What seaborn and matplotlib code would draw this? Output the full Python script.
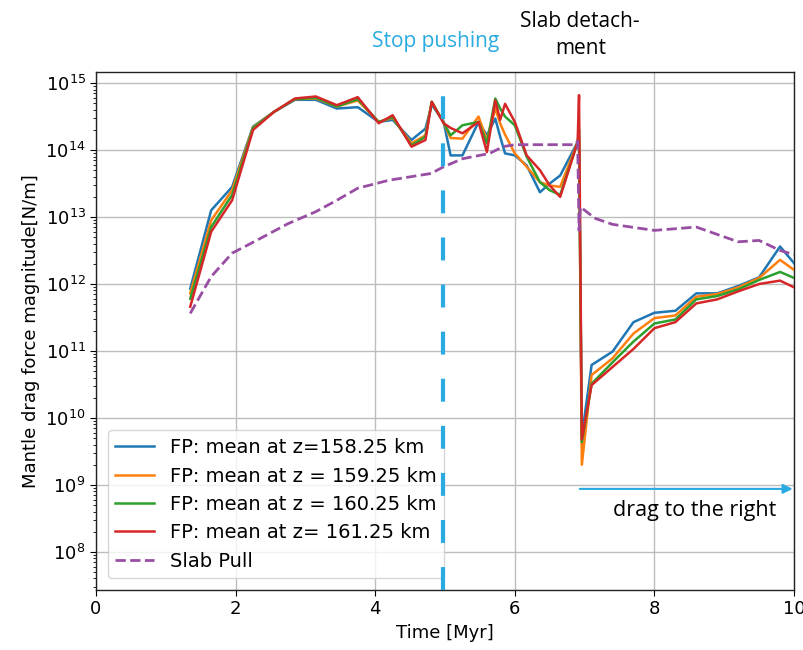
import numpy as np
import pandas as pd
import matplotlib
matplotlib.use("Agg")
import matplotlib.pyplot as plt
import seaborn as sns

# Output times [Myr] of the force-profile (FP) samples
time_fp = [1.35, 1.65, 1.95, 2.25, 2.55, 2.85, 3.15, 3.45, 3.75, 4.05,
           4.25, 4.52, 4.72, 4.81, 4.98, 5.08, 5.25, 5.48, 5.60, 5.72,
           5.79, 5.86, 6.00, 6.17, 6.36, 6.50, 6.65, 6.90, 6.92, 6.96,
           7.10, 7.40, 7.70, 8.00, 8.30, 8.60, 8.90, 9.20, 9.50, 9.80, 10.0]

# log10 of the mean drag force magnitude [N/m] at each depth
log_fp_158 = [11.93, 13.10, 13.45, 14.35, 14.57, 14.75, 14.75, 14.62, 14.64, 14.42,
              14.45, 14.15, 14.32, 14.68, 14.42, 13.92, 13.92, 14.42, 14.22, 14.47,
              14.20, 13.95, 13.92, 13.77, 13.37, 13.50, 13.62, 14.12, 14.15, 9.72,
              10.79, 10.99, 11.43, 11.57, 11.60, 11.86, 11.86, 11.97, 12.10, 12.56, 12.31]
log_fp_159 = [11.86, 12.95, 13.40, 14.34, 14.57, 14.76, 14.77, 14.65, 14.74, 14.42,
              14.48, 14.10, 14.22, 14.72, 14.41, 14.18, 14.17, 14.50, 14.15, 14.62,
              14.40, 14.23, 13.95, 13.75, 13.52, 13.47, 13.45, 14.12, 14.20, 9.30,
              10.64, 10.89, 11.26, 11.49, 11.53, 11.81, 11.85, 11.95, 12.09, 12.36, 12.21]
log_fp_160 = [11.78, 12.85, 13.33, 14.33, 14.57, 14.76, 14.78, 14.65, 14.76, 14.42,
              14.49, 14.07, 14.20, 14.72, 14.41, 14.22, 14.37, 14.42, 14.10, 14.77,
              14.62, 14.50, 14.37, 13.90, 13.52, 13.40, 13.33, 14.12, 14.30, 9.64,
              10.51, 10.83, 11.14, 11.41, 11.47, 11.77, 11.82, 11.92, 12.06, 12.18, 12.09]
log_fp_161 = [11.66, 12.78, 13.25, 14.30, 14.57, 14.77, 14.80, 14.67, 14.79, 14.40,
              14.52, 14.05, 14.15, 14.72, 14.40, 14.33, 14.25, 14.42, 13.97, 14.74,
              14.45, 14.69, 14.42, 13.92, 13.70, 13.47, 13.30, 14.12, 14.82, 9.68,
              10.49, 10.76, 11.03, 11.34, 11.43, 11.71, 11.77, 11.89, 12.00, 12.05, 11.95]

# Slab pull: times [Myr] and log10 of force [N/m]
time_sp = [1.35, 1.65, 1.95, 2.30, 2.75, 3.15, 3.45, 3.75, 4.20, 4.80,
           4.98, 5.25, 5.64, 5.83, 6.00, 6.50, 6.85, 6.90, 6.92, 6.94,
           7.15, 7.40, 8.00, 8.60, 9.20, 9.50, 9.80, 10.0]
log_sp = [11.56, 12.11, 12.46, 12.65, 12.90, 13.08, 13.25, 13.43, 13.55, 13.65,
          13.75, 13.87, 13.95, 14.05, 14.08, 14.08, 14.08, 14.13, 12.80, 13.15,
          12.98, 12.89, 12.80, 12.85, 12.63, 12.65, 12.50, 12.44]

labels = ["FP: mean at z=158.25 km", "FP: mean at z = 159.25 km",
          "FP: mean at z = 160.25 km", "FP: mean at z= 161.25 km"]
colors = ["#1f77b4", "#ff7f0e", "#2ca02c", "#d62728"]
sp_label = "Slab Pull"
sp_color = "#984ea3"

stop_push_time = 4.97
event_color = "#29abe2"

plt.rcParams["font.family"] = ["DejaVu Sans"]

fig = plt.figure(figsize=(8.04, 6.5), dpi=100)
ax = fig.add_axes([0.1194, 0.0923, 0.8682, 0.7974])
ax.set_yscale("log")

for logs, lab, col in zip([log_fp_158, log_fp_159, log_fp_160, log_fp_161], labels, colors):
    df = pd.DataFrame({"time": time_fp, "force": np.power(10.0, logs)})
    sns.lineplot(data=df, x="time", y="force", ax=ax, color=col, label=lab,
                 lw=1.8, sort=False, estimator=None, zorder=3)

df_sp = pd.DataFrame({"time": time_sp, "force": np.power(10.0, log_sp)})
sns.lineplot(data=df_sp, x="time", y="force", ax=ax, color=sp_color, label=sp_label,
             lw=2, linestyle="--", sort=False, estimator=None, zorder=3)

ax.set_xlim(0, 10)
ax.set_ylim(10 ** 7.43, 10 ** 15.17)
ax.set_xticks([0, 2, 4, 6, 8, 10])
ax.set_yticks([10.0 ** k for k in range(8, 16)])
ax.grid(True, which="major", color="#bdbdbd", lw=1)
ax.set_axisbelow(True)
ax.tick_params(axis="both", which="major", labelsize=13, direction="out", length=4)
ax.tick_params(axis="y", which="minor", direction="out", length=2)
for sp in ax.spines.values():
    sp.set_color("#222222")
    sp.set_linewidth(1.0)

ax.set_xlabel("Time [Myr]", fontsize=13)
ax.set_ylabel("Mantle drag force magnitude[N/m]", fontsize=13)

leg = ax.legend(loc="lower left", fontsize=14, framealpha=0.8, labelspacing=0.48,
                edgecolor="#cccccc", handlelength=2.0, borderaxespad=0.6)

# Time at which the push stops
ax.axvline(stop_push_time, color=event_color, lw=3, ls=(0, (5.5, 5.8)), zorder=6)

# Direction of the drag after detachment
ax.annotate("", xy=(9.98, 10 ** 8.94), xytext=(6.93, 10 ** 8.94),
            arrowprops=dict(arrowstyle="-|>", color=event_color, lw=1.5,
                            mutation_scale=14, shrinkA=0, shrinkB=0), zorder=6)
ax.text(8.57, 10 ** 8.62, "drag to the right", fontsize=15.5, family="Open Sans",
        ha="center", va="center", color="black")

fig.text(436 / 804, 1 - 41.7 / 650, "Stop pushing", fontsize=15, family="Open Sans",
         color=event_color, ha="center", va="center")
fig.text(580 / 804, 1 - 21.7 / 650, "Slab detach-", fontsize=15, family="Open Sans",
         color="black", ha="center", va="center")
fig.text(581 / 804, 1 - 48.3 / 650, "ment", fontsize=15, family="Open Sans",
         color="black", ha="center", va="center")

fig.savefig("out.png", dpi=100)
